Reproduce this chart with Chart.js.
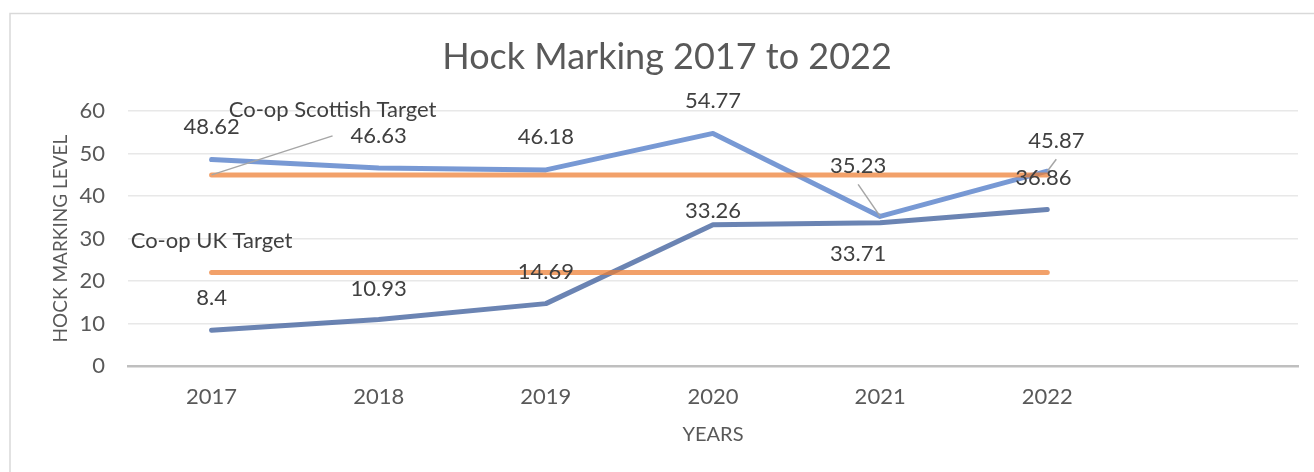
<!DOCTYPE html>
<html lang="en">
<head>
    <meta charset="UTF-8">
    <title>Hock Marking 2017 to 2022</title>
    <style>
        body { margin: 0; background: #ffffff; }
        #chart-box { width: 1314px; height: 472px; }
    </style>
</head>
<body>
    <div id="chart-box">
        <canvas id="hock-chart" width="1314" height="472"></canvas>
    </div>
    <script src="https://cdn.jsdelivr.net/npm/chart.js@4"></script>
    <script>
        // data
        const years = ['2017', '2018', '2019', '2020', '2021', '2022', ''];
        const scottishLevel = [48.62, 46.63, 46.18, 54.77, 35.23, 45.87];
        const ukLevel = [8.4, 10.93, 14.69, 33.26, 33.71, 36.86];
        const scottishTarget = [45, 45, 45, 45, 45, 45];
        const ukTarget = [22, 22, 22, 22, 22, 22];
        const yMin = 0, yMax = 60, yStep = 10;

        // where each data label sits relative to its point (dx, dy, leader start below text)
        const scottishLabelPos = [[0, -33, 0], [0, -32, 0], [0, -33, 0], [0, -33, 0], [-22, -50, 18], [9, -30, 18]];
        const ukLabelPos = [[0, -32, 0], [0, -31, 0], [0, -32, 0], [0, -14, 0], [-22, 31, 0], [-4, -32, 0]];
        const scottishTargetLabelPos = [121, -65, 26];
        const ukTargetLabelPos = [0, -32, 0];

        const labelFont = '22px Lato';
        const textGrey = '#404040';
        const tickGrey = '#595959';

        // draws the frame round the chart
        const framePlugin = {
            id: 'frame',
            beforeDraw(chart) {
                const ctx = chart.ctx;
                ctx.save();
                ctx.fillStyle = '#ffffff';
                ctx.fillRect(0, 0, chart.width, chart.height);
                ctx.strokeStyle = '#d9d9d9';
                ctx.lineWidth = 1.5;
                ctx.strokeRect(10, 13.5, 1400, 600);
                ctx.restore();
            }
        };

        function drawLabel(ctx, pt, pos, text) {
            const x = pt.x + pos[0];
            const y = pt.y + pos[1];
            if (pos[2]) {
                ctx.beginPath();
                ctx.moveTo(x, y + pos[2]);
                ctx.lineTo(pt.x, pt.y);
                ctx.stroke();
            }
            ctx.fillText(text, x, y);
        }

        // Excel style data labels and series-name labels
        const labelPlugin = {
            id: 'dataLabels',
            afterDatasetsDraw(chart) {
                const ctx = chart.ctx;
                ctx.save();
                ctx.font = labelFont;
                ctx.fillStyle = textGrey;
                ctx.strokeStyle = '#a6a6a6';
                ctx.lineWidth = 1.5;
                ctx.textAlign = 'center';
                ctx.textBaseline = 'middle';

                const scot = chart.getDatasetMeta(2).data;
                const uk = chart.getDatasetMeta(3).data;
                scottishLevel.forEach((v, i) => drawLabel(ctx, scot[i], scottishLabelPos[i], String(v)));
                ukLevel.forEach((v, i) => drawLabel(ctx, uk[i], ukLabelPos[i], String(v)));

                drawLabel(ctx, chart.getDatasetMeta(0).data[0], scottishTargetLabelPos, 'Co-op Scottish Target');
                drawLabel(ctx, chart.getDatasetMeta(1).data[0], ukTargetLabelPos, 'Co-op UK Target');
                ctx.restore();
            }
        };

        const lineStyle = {
            pointRadius: 0,
            pointHoverRadius: 0,
            borderCapStyle: 'round',
            borderJoinStyle: 'round',
            tension: 0,
            fill: false
        };

        const config = {
            type: 'line',
            data: {
                labels: years,
                datasets: [
                    Object.assign({ label: 'Co-op Scottish Target', data: scottishTarget, borderColor: 'rgba(237, 125, 49, 0.72)', borderWidth: 5, order: 1 }, lineStyle),
                    Object.assign({ label: 'Co-op UK Target', data: ukTarget, borderColor: 'rgba(237, 125, 49, 0.72)', borderWidth: 5, order: 2 }, lineStyle),
                    Object.assign({ label: 'Scottish', data: scottishLevel, borderColor: 'rgba(68, 114, 196, 0.72)', borderWidth: 5, order: 3 }, lineStyle),
                    Object.assign({ label: 'UK', data: ukLevel, borderColor: 'rgba(50, 85, 150, 0.72)', borderWidth: 5, order: 4 }, lineStyle)
                ]
            },
            options: {
                responsive: false,
                animation: false,
                layout: {
                    padding: { top: 14, left: 36, right: 16, bottom: 0 }
                },
                scales: {
                    x: {
                        offset: true,
                        grid: { display: false, drawTicks: false },
                        border: { display: true, color: '#bfbfbf', width: 2.5 },
                        ticks: {
                            color: tickGrey,
                            font: { family: 'Lato', size: 22 },
                            padding: 18,
                            maxRotation: 0,
                            autoSkip: false
                        },
                        title: {
                            display: true,
                            text: 'YEARS',
                            color: tickGrey,
                            font: { family: 'Lato', size: 20 },
                            padding: { top: 0, bottom: 25 }
                        },
                        afterFit(scale) { scale.height = 106; }
                    },
                    y: {
                        min: yMin,
                        max: yMax,
                        grid: { color: '#e8e8e8', lineWidth: 1.5, drawTicks: false },
                        border: { display: false },
                        ticks: {
                            stepSize: yStep,
                            color: tickGrey,
                            font: { family: 'Lato', size: 22 },
                            padding: 23
                        },
                        title: {
                            display: true,
                            text: 'HOCK MARKING LEVEL',
                            color: tickGrey,
                            font: { family: 'Lato', size: 19 },
                            padding: { top: 13, bottom: 0 }
                        },
                        afterFit(scale) { scale.width = 92; }
                    }
                },
                plugins: {
                    legend: { display: false },
                    tooltip: { enabled: false },
                    title: {
                        display: true,
                        text: 'Hock Marking 2017 to 2022',
                        color: tickGrey,
                        font: { family: 'Lato', size: 36, weight: 'normal' },
                        padding: { top: 22, bottom: 32 }
                    }
                }
            },
            plugins: [framePlugin, labelPlugin]
        };

        const hockChart = new Chart(document.getElementById('hock-chart'), config);
    </script>
</body>
</html>
